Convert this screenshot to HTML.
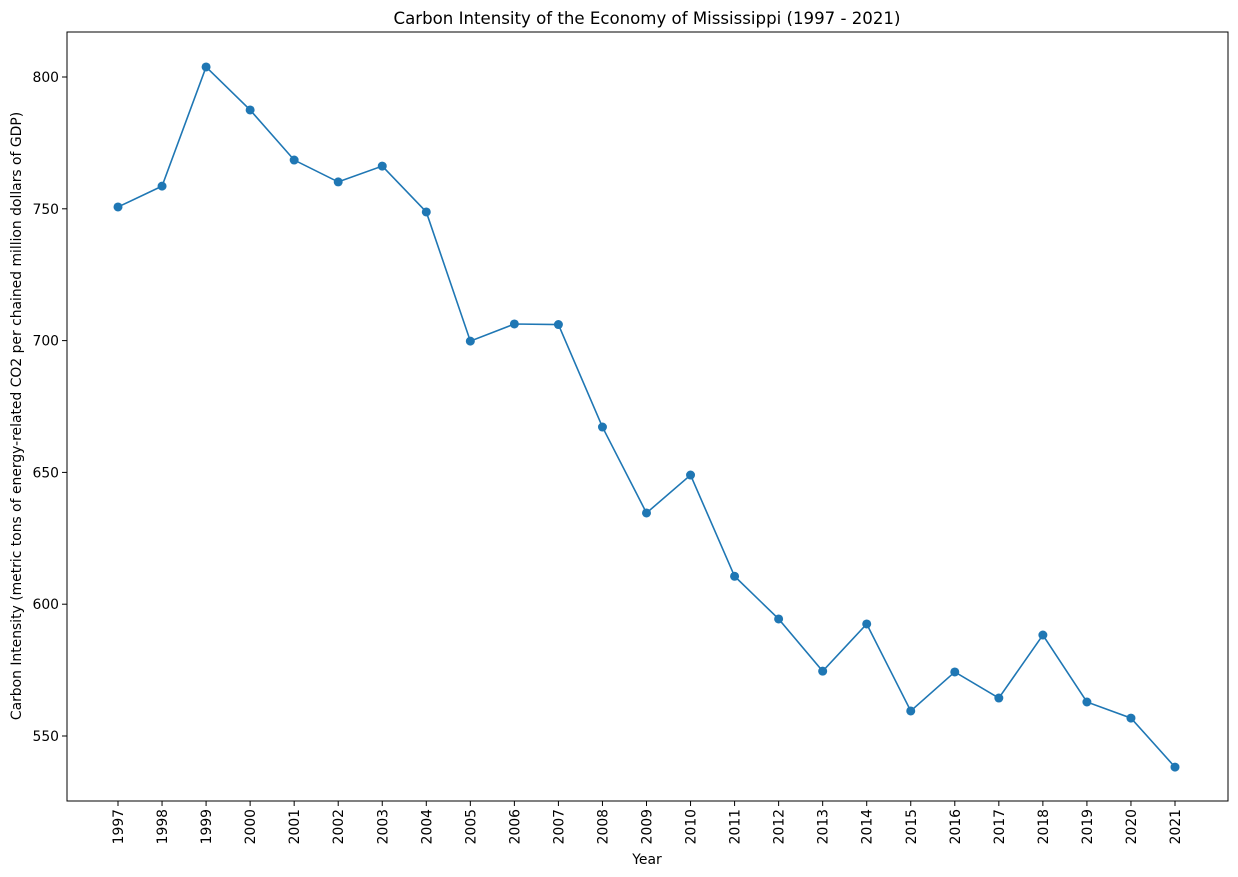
<!DOCTYPE html>
<html><head><meta charset="utf-8"><style>
body{margin:0;background:#fff;}
svg{display:block;font-family:"DejaVu Sans","Liberation Sans",sans-serif;}
</style></head><body>
<svg id="chart" width="1238" height="877">
<rect x="0" y="0" width="1238" height="877" fill="#fff"/>
<text x="647" y="24" text-anchor="middle" font-size="16.6">Carbon Intensity of the Economy of Mississippi (1997 - 2021)</text>
<g id="yticks"></g><g id="xticks"></g>
<path id="line" fill="none" stroke="#1f77b4" stroke-width="1.6"/>
<g id="points"></g>
<rect x="67" y="32" width="1161" height="769" fill="none" stroke="#000" stroke-width="1"/>
<text x="647" y="864" text-anchor="middle" font-size="13.9">Year</text>
<text transform="translate(21,416) rotate(-90)" text-anchor="middle" font-size="13.9">Carbon Intensity (metric tons of energy-related CO2 per chained million dollars of GDP)</text>
</svg>
<script>
const years=[1997,1998,1999,2000,2001,2002,2003,2004,2005,2006,2007,2008,2009,2010,2011,2012,2013,2014,2015,2016,2017,2018,2019,2020,2021];
const values=[750.7,758.6,803.8,787.5,768.5,760.2,766.2,748.8,699.8,706.3,706.1,667.2,634.6,649.0,610.6,594.4,574.6,592.5,559.5,574.3,564.4,588.3,562.9,556.8,538.2];
const yTickVals=[550,600,650,700,750,800];
const NS="http://www.w3.org/2000/svg";
const xS=y=>118+(y-1997)*(1175-118)/24;
const yS=v=>77+(800-v)*131.8/50;
function mk(t,a,p){const e=document.createElementNS(NS,t);for(const k in a)e.setAttribute(k,a[k]);p.appendChild(e);return e;}
const yt=document.getElementById('yticks');
yTickVals.forEach(v=>{const y=yS(v);
 const l=mk('line',{x1:62,x2:67,y1:y,y2:y,stroke:'#000'},yt);
 
 
 const t=mk('text',{x:59,y:y+5,'text-anchor':'end','font-size':13.9},yt);t.textContent=v;
 
 
});
const xt=document.getElementById('xticks');
years.forEach(yr=>{const x=xS(yr);
 const l=mk('line',{x1:x,x2:x,y1:801,y2:806,stroke:'#000'},xt);
 
 
 const t=mk('text',{transform:`translate(${x+5},${809}) rotate(-90)`,'text-anchor':'end','font-size':13.9},xt);t.textContent=yr;
 
 
});
document.getElementById('line').setAttribute('d',years.map((yr,i)=>(i?'L':'M')+xS(yr)+','+yS(values[i])).join(''));
const pg=document.getElementById('points');
years.forEach((yr,i)=>{const c=mk('circle',{cx:xS(yr),cy:yS(values[i]),r:4.5,fill:'#1f77b4'},pg);
 
 
});
</script>
</body></html>
